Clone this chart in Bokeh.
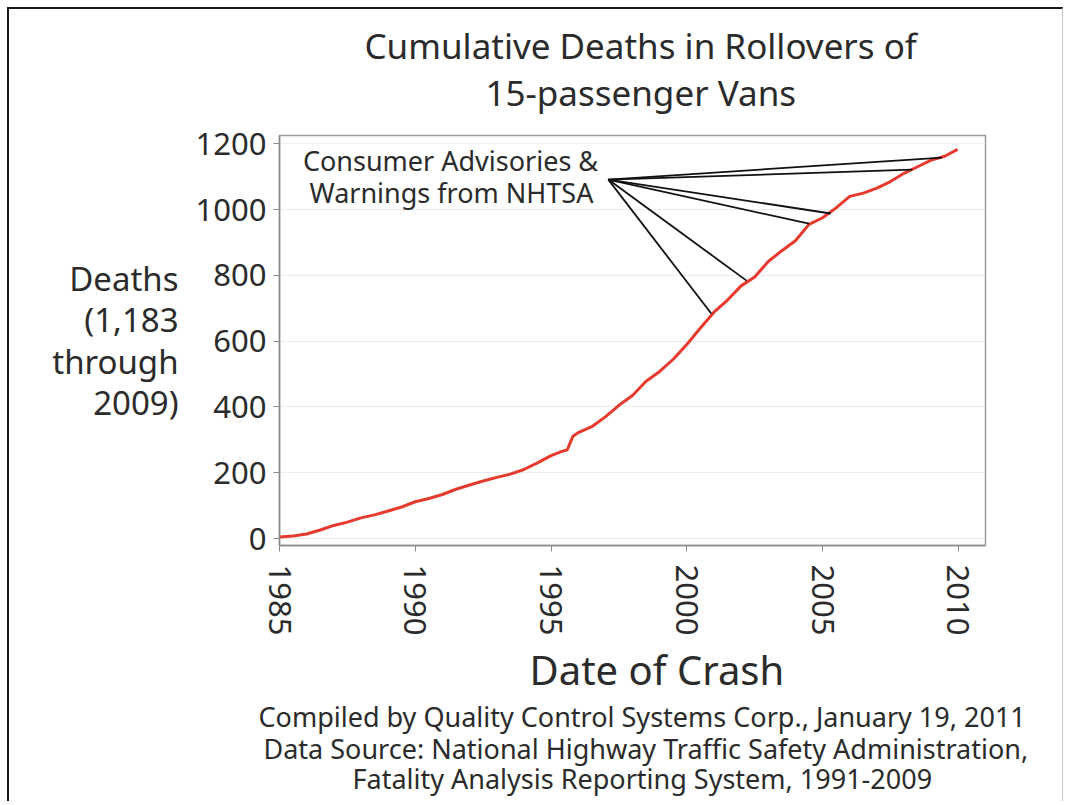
from bokeh.plotting import figure
from bokeh.models import Range1d, FixedTicker, Label, Title
from bokeh.embed import file_html
from bokeh.resources import INLINE

# ---- data ----
years = [1985.0, 1985.5, 1986.0, 1986.5, 1987.0, 1987.5, 1988.0, 1988.5, 1989.0, 1989.5,
         1990.0, 1990.5, 1991.0, 1991.5, 1992.0, 1992.5, 1993.0, 1993.5, 1994.0, 1994.5,
         1995.0, 1995.4, 1995.6, 1995.8, 1996.0, 1996.5, 1997.0, 1997.5, 1998.0, 1998.5,
         1999.0, 1999.5, 2000.0, 2000.5, 2001.0, 2001.5, 2002.0, 2002.5, 2003.0, 2003.5,
         2004.0, 2004.5, 2005.0, 2005.5, 2006.0, 2006.5, 2007.0, 2007.5, 2008.0, 2008.5,
         2009.0, 2009.5, 2009.97]
deaths = [5, 8, 14, 26, 40, 50, 63, 72, 84, 96,
          112, 122, 134, 150, 163, 175, 186, 196, 210, 230,
          252, 265, 270, 310, 322, 340, 370, 405, 435, 478,
          508, 545, 590, 640, 688, 725, 768, 795, 842, 875,
          905, 955, 975, 1005, 1040, 1050, 1065, 1085, 1110, 1130,
          1150, 1162, 1183]

advisory_years = [2000.9, 2002.2, 2004.5, 2005.3, 2008.3, 2009.4]
advisory_deaths = [684, 784, 957, 988, 1121, 1158]
callout_year = 1997.11
callout_deaths = 1091

x_ticks = [1985, 1990, 1995, 2000, 2005, 2010]
y_ticks = [0, 200, 400, 600, 800, 1000, 1200]

title_lines = ["Cumulative Deaths in Rollovers of", "15-passenger Vans"]
callout_lines = ["Consumer Advisories &", "Warnings from NHTSA"]
ylabel_lines = ["Deaths", "(1,183", "through", "2009)"]
xlabel = "Date of Crash"
footer_lines = ["Compiled by Quality Control Systems Corp., January 19, 2011",
                "Data Source:  National Highway Traffic Safety Administration,",
                "Fatality Analysis Reporting System, 1991-2009"]

FONT = "Noto Sans"
TXT = "#2b2b2b"

CANVAS_X, CANVAS_Y = 9, 9   # page position of the canvas

p = figure(width=1056, height=794, x_range=Range1d(1985, 2011), y_range=Range1d(-21, 1225),
           output_backend="svg", toolbar_location=None, title=None,
           min_border_left=279 - CANVAS_X, min_border_right=CANVAS_X + 1056 - 985,
           min_border_top=135 - CANVAS_Y, min_border_bottom=CANVAS_Y + 794 - 545)
p.styles = {"margin-left": "7px", "margin-top": "7px",
            "border-left": "2px solid #1a1a1a", "border-top": "2px solid #1a1a1a",
            "border-right": "1px solid #c8c8c8"}

p.outline_line_color = "#9a9a9a"
p.outline_line_width = 1.5
p.xgrid.grid_line_color = None
p.ygrid.grid_line_color = "#ececec"
p.ygrid.grid_line_width = 1.2

for ax in (p.xaxis[0], p.yaxis[0]):
    ax.axis_line_color = "#8a8a8a"
    ax.axis_line_width = 1.5
    ax.major_tick_line_color = "#8a8a8a"
    ax.major_tick_in = 0
    ax.major_tick_out = 6
    ax.minor_tick_line_color = None
    ax.major_label_text_font = FONT
    ax.major_label_text_font_size = "31px"
    ax.major_label_text_color = TXT

p.xaxis.ticker = FixedTicker(ticks=x_ticks)
p.yaxis.ticker = FixedTicker(ticks=y_ticks)
p.xaxis.major_label_orientation = "vertical"
p.xaxis.major_label_standoff = 13
p.yaxis.major_label_standoff = 7

# y-axis label: horizontal, multi-line
p.yaxis.axis_label = "\n".join(ylabel_lines)
p.yaxis.axis_label_orientation = "horizontal"
p.yaxis.axis_label_text_font = FONT
p.yaxis.axis_label_text_font_style = "normal"
p.yaxis.axis_label_text_font_size = "33px"
p.yaxis.axis_label_text_color = TXT
p.yaxis.axis_label_text_line_height = 0.92
p.yaxis.axis_label_standoff = 14

# data line
p.line(years, deaths, line_color="#e63a2e", line_width=3)

# callout lines
p.segment(x0=[callout_year] * len(advisory_years), y0=[callout_deaths] * len(advisory_years),
          x1=advisory_years, y1=advisory_deaths, line_color="#111111", line_width=1.8)

# callout text (inside the frame)
for t, px, py in zip(callout_lines, [448, 449], [158, 190]):
    p.add_layout(Label(x=px - CANVAS_X, y=py - CANVAS_Y, x_units="canvas", y_units="canvas",
                       text=t, text_font=FONT, text_font_size="27px", text_color=TXT,
                       text_align="center", text_baseline="middle"))


def title(text, size, offset, standoff, side):
    p.add_layout(Title(text=text, align="left", offset=offset,
                       text_font=FONT, text_font_size=size, text_font_style="normal",
                       text_color=TXT, standoff=standoff), side)


# title above (nearest the frame first)
title(title_lines[1], "35px", 206, 40, "above")
title(title_lines[0], "35px", 85, -44, "above")

# x label and footer below (nearest the frame first)
title(xlabel, "40px", 250, 2, "below")
title(footer_lines[0], "27px", -21, -4, "below")
title(footer_lines[1], "27px", -16, -9, "below")
title(footer_lines[2], "27px", 73, -9, "below")

open("out.html", "w").write(file_html(p, INLINE))
